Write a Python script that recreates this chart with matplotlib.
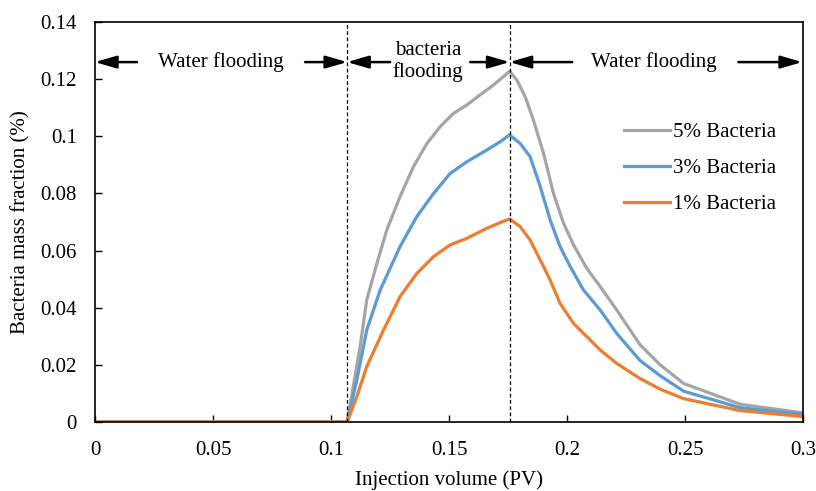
import numpy as np
import matplotlib
matplotlib.use("Agg")
import matplotlib.pyplot as plt
from matplotlib.ticker import FuncFormatter, MultipleLocator

plt.rcParams['font.family'] = ['Liberation Serif', 'DejaVu Serif']

# injection volume (PV) vs bacteria mass fraction (%) for each concentration
pv_5 = [0, 0.1068, 0.1123, 0.1151, 0.1194, 0.1236, 0.1292, 0.1349, 0.1406,
        0.1462, 0.1518, 0.1575, 0.1631, 0.1688, 0.1730, 0.1756, 0.1787,
        0.1822, 0.1857, 0.1900, 0.1942, 0.1985, 0.2027, 0.2083, 0.2140,
        0.2210, 0.2309, 0.2394, 0.2493, 0.2733, 0.3]
bact_5 = [0, 0, 0.0264, 0.0427, 0.0555, 0.0672, 0.0789, 0.0894, 0.0975,
          0.1034, 0.1080, 0.1110, 0.1145, 0.1180, 0.1209, 0.1228, 0.1197,
          0.1139, 0.1057, 0.0940, 0.0800, 0.0695, 0.0620, 0.0538, 0.0474,
          0.0392, 0.0270, 0.0200, 0.0135, 0.0062, 0.0032]

pv_3 = [0, 0.1068, 0.1109, 0.1151, 0.1208, 0.1292, 0.1363, 0.1434, 0.1504,
        0.1575, 0.1659, 0.1716, 0.1756, 0.1801, 0.1843, 0.1886, 0.1928,
        0.1970, 0.2013, 0.2069, 0.2140, 0.2210, 0.2309, 0.2394, 0.2493,
        0.2733, 0.3]
bact_3 = [0, 0, 0.0147, 0.0322, 0.0462, 0.0614, 0.0719, 0.0800, 0.0870,
          0.0911, 0.0952, 0.0981, 0.1005, 0.0975, 0.0929, 0.0824, 0.0707,
          0.0614, 0.0544, 0.0462, 0.0392, 0.0310, 0.0215, 0.0162, 0.0108,
          0.0050, 0.0027]

pv_1 = [0, 0.1068, 0.1109, 0.1151, 0.1222, 0.1292, 0.1363, 0.1434, 0.1504,
        0.1575, 0.1659, 0.1716, 0.1756, 0.1801, 0.1843, 0.1886, 0.1928,
        0.1970, 0.2027, 0.2083, 0.2140, 0.2210, 0.2309, 0.2394, 0.2493,
        0.2733, 0.3]
bact_1 = [0, 0, 0.0089, 0.0194, 0.0322, 0.0439, 0.0520, 0.0579, 0.0620,
          0.0643, 0.0678, 0.0698, 0.0711, 0.0684, 0.0637, 0.0567, 0.0497,
          0.0415, 0.0345, 0.0299, 0.0252, 0.0205, 0.0152, 0.0115, 0.0082,
          0.0040, 0.0019]

stage_bounds = [0.1068, 0.1756]
arrow_y = 0.126

fig = plt.figure(figsize=(8.16, 4.91), dpi=100)
ax = fig.add_axes([0.1164, 0.1405, 0.868, 0.8145])

ax.plot(pv_5, bact_5, color='#A5A5A5', lw=2.3, label='5% Bacteria')
ax.plot(pv_3, bact_3, color='#5B9BD5', lw=2.3, label='3% Bacteria')
ax.plot(pv_1, bact_1, color='#ED7D31', lw=2.3, label='1% Bacteria')

for xb in stage_bounds:
    ax.axvline(xb, color='black', lw=0.9, ls=(0, (3, 2)))

ax.set_xlim(0, 0.3)
ax.set_ylim(0, 0.14)
ax.xaxis.set_major_locator(MultipleLocator(0.05))
ax.yaxis.set_major_locator(MultipleLocator(0.02))
fmt = FuncFormatter(lambda v, p: '%g' % round(v, 4))
ax.xaxis.set_major_formatter(fmt)
ax.yaxis.set_major_formatter(fmt)
ax.tick_params(direction='in', length=5, width=1, labelsize=15)
ax.tick_params(axis='x', pad=14)
ax.tick_params(axis='y', pad=13)
for s in ax.spines.values():
    s.set_linewidth(1.2)

ax.set_xlabel('Injection volume (PV)', fontsize=15, labelpad=7)
ax.set_ylabel('Bacteria mass fraction (%)', fontsize=15, labelpad=7)

arr = dict(arrowstyle='-|>,head_length=1.3,head_width=0.38', color='black',
           lw=1.8, shrinkA=0, shrinkB=0)

def stage(x0, x1, t0, t1, label, tx, ty):
    ax.annotate('', xy=(x0, arrow_y), xytext=(t0, arrow_y), arrowprops=arr)
    ax.annotate('', xy=(x1, arrow_y), xytext=(t1, arrow_y), arrowprops=arr)
    ax.text(tx, ty, label, ha='center', va='center', fontsize=15,
            linespacing=1.18)

stage(0, stage_bounds[0], 0.0178, 0.089, 'Water flooding', 0.0534, arrow_y)
stage(stage_bounds[0], stage_bounds[1], 0.125, 0.1589, 'bacteria\nflooding',
      0.1411, 0.1262)
stage(stage_bounds[1], 0.2995, 0.2021, 0.2725, 'Water flooding', 0.2369,
      arrow_y)

ax.legend(loc='upper left', bbox_to_anchor=(0.735, 0.77), frameon=False,
          fontsize=15, handlelength=2.2, handletextpad=0.15,
          labelspacing=0.8, borderaxespad=0)

fig.savefig('out.png', dpi=100)
